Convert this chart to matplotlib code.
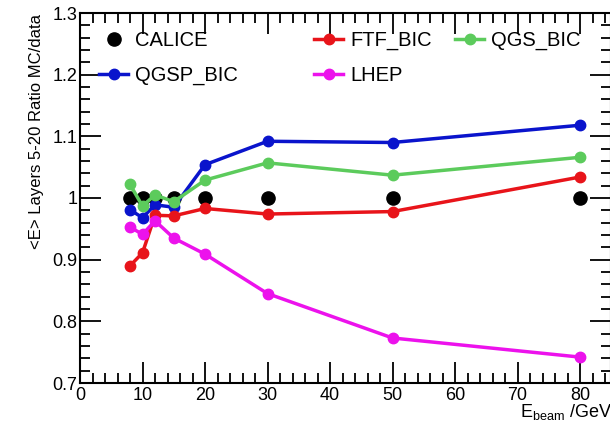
import matplotlib
matplotlib.use("Agg")
import matplotlib.pyplot as plt
from matplotlib.ticker import MultipleLocator
from matplotlib.lines import Line2D

plt.rcParams['font.family'] = ['Liberation Sans', 'DejaVu Sans']

energy = [8, 10, 12, 15, 20, 30, 50, 80]
calice = [1.0, 1.0, 1.0, 1.0, 1.0, 1.0, 1.0, 1.0]
qgsp_bic = [0.981, 0.968, 0.989, 0.985, 1.054, 1.092, 1.090, 1.118]
qgs_bic = [1.022, 0.987, 1.005, 0.994, 1.029, 1.057, 1.037, 1.066]
ftf_bic = [0.890, 0.911, 0.972, 0.971, 0.983, 0.974, 0.978, 1.034]
lhep = [0.953, 0.941, 0.963, 0.935, 0.909, 0.845, 0.773, 0.742]

series = [
    ("QGSP_BIC", qgsp_bic, "#0a14cc"),
    ("FTF_BIC", ftf_bic, "#e8141a"),
    ("QGS_BIC", qgs_bic, "#5ccb5c"),
    ("LHEP", lhep, "#ec12ec"),
]

W, H = 610, 421
fig = plt.figure(figsize=(W / 100, H / 100), dpi=100)
ax = fig.add_axes([80 / W, 1 - 383 / H, (611 - 80) / W, (383 - 13) / H])

ax.plot(energy, calice, 'o', color='black', markersize=9.5, zorder=2, linestyle='none')
handles = {}
for name, vals, col in series:
    h, = ax.plot(energy, vals, '-o', color=col, lw=2.5, markersize=7.5, zorder=3)
    handles[name] = h

ax.set_xlim(0, 84.96)
ax.set_ylim(0.7, 1.3)
ax.xaxis.set_major_locator(MultipleLocator(10))
ax.xaxis.set_minor_locator(MultipleLocator(2))
ax.yaxis.set_minor_locator(MultipleLocator(0.02))
ax.set_yticks([0.7, 0.8, 0.9, 1.0, 1.1, 1.2, 1.3])
ax.set_yticklabels(["0.7", "0.8", "0.9", "1", "1.1", "1.2", "1.3"])
ax.tick_params(which='both', direction='in', top=True, right=True, width=1.3, labelsize=13)
ax.tick_params(which='major', length=15)
ax.tick_params(which='minor', length=7)
ax.tick_params(axis='x', pad=3)
ax.tick_params(axis='y', pad=2)
for s in ax.spines.values():
    s.set_linewidth(1.5)

fig.text(612 / W, 1 - 412 / H, r"E$_{\mathregular{beam}}$ /GeV", ha='right', va='center', fontsize=13)
fig.text(37 / W, 1 - 14 / H, "<E> Layers 5-20 Ratio MC/data", rotation=90, ha='center', va='top', fontsize=12)

cal_h = Line2D([], [], color='black', marker='o', linestyle='none', markersize=9.5)
leg_kw = dict(frameon=False, fontsize=14.5, handlelength=1.45, handletextpad=0.35, labelspacing=0.8,
              borderaxespad=0, borderpad=0)
top = 1 - 31 / H
l1 = ax.legend([cal_h, handles["QGSP_BIC"]], ["CALICE", "QGSP_BIC"],
               loc='upper left', bbox_to_anchor=(99 / W, top), bbox_transform=fig.transFigure, **leg_kw)
ax.add_artist(l1)
l2 = ax.legend([handles["FTF_BIC"], handles["LHEP"]], ["FTF_BIC", "LHEP"],
               loc='upper left', bbox_to_anchor=(314 / W, top), bbox_transform=fig.transFigure, **leg_kw)
ax.add_artist(l2)
l3 = ax.legend([handles["QGS_BIC"]], ["QGS_BIC"],
               loc='upper left', bbox_to_anchor=(455 / W, top), bbox_transform=fig.transFigure, **leg_kw)

fig.savefig("out.png", dpi=100)
